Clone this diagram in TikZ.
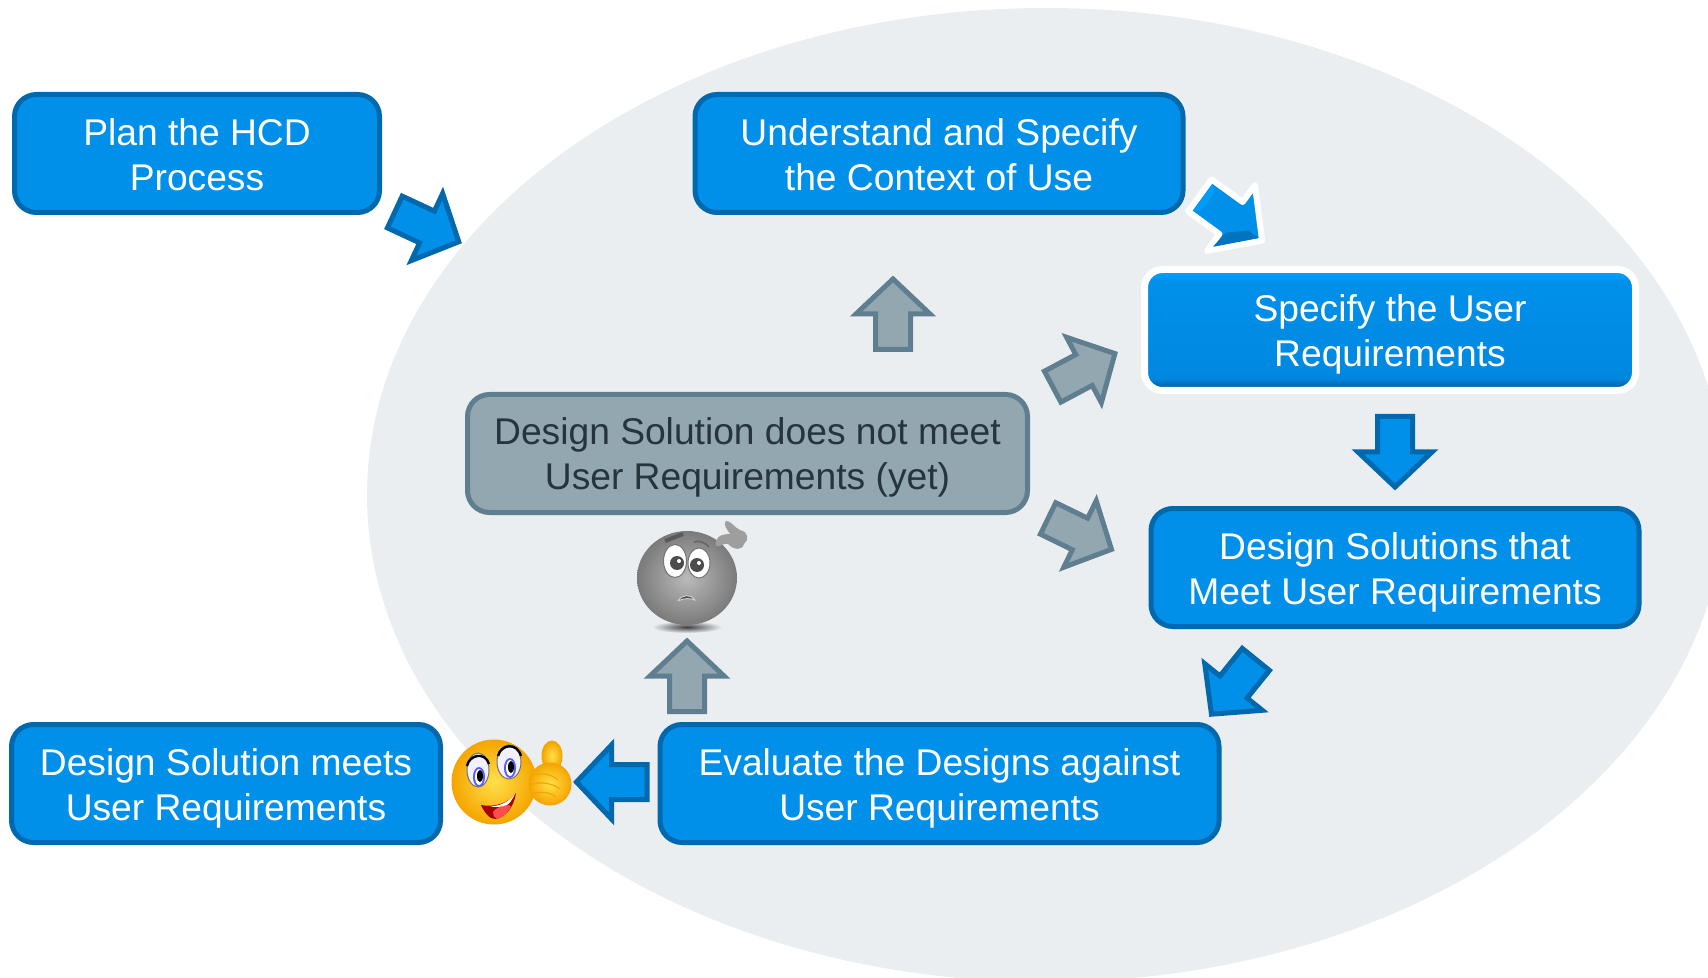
\documentclass[tikz,border=0pt]{standalone}
\usepackage{fontspec}
\setmainfont{Liberation Sans}
\usetikzlibrary{shadows}

\definecolor{boxblue}{HTML}{0090EA}
\definecolor{boxedge}{HTML}{0068AC}
\definecolor{boxgray}{HTML}{93A7B1}
\definecolor{edgegray}{HTML}{5F7F90}
\definecolor{inkgray}{HTML}{26343C}
\definecolor{backdrop}{HTML}{EBEEF1}
\definecolor{facegold}{HTML}{FFE04A}
\definecolor{faceamber}{HTML}{F5A500}
\definecolor{bandlow}{HTML}{0078C8}
\definecolor{banddark}{HTML}{005C9C}
\definecolor{bandmid}{HTML}{0088E0}
\definecolor{bandtop}{HTML}{009CFC}

\pgfdeclareverticalshading{specifyfill}{100bp}{
  color(0bp)=(bandlow); color(25bp)=(bandlow); color(26bp)=(banddark);
  color(30bp)=(bandmid); color(70bp)=(boxblue); color(73bp)=(bandtop);
  color(100bp)=(bandtop)}

\begin{document}
\begin{tikzpicture}[
    x=0.5pt,
    y=-0.5pt,
    stepbox/.style = {
      draw = boxedge,
      fill = boxblue,
      line width = 2.5pt,
      rounded corners = 11pt,
      inner sep = 0pt,
      align = center,
      text = white,
      font = \fontsize{18.6pt}{22.5pt}\selectfont
    },
    graybox/.style = {
      stepbox,
      draw = edgegray,
      fill = boxgray,
      text = inkgray
    },
    bluearrow/.style = {
      draw = boxedge,
      fill = boxblue,
      line width = 2.5pt
    },
    grayarrow/.style = {
      draw = edgegray,
      fill = boxgray,
      line width = 2.5pt
    },
    goldball/.style = {
      inner color = facegold,
      outer color = faceamber,
      draw = faceamber,
      line width = .5pt
    },
    eyeball/.style = {
      fill = white,
      draw = black!55,
      line width = .5pt
    },
    blockarrow/.pic = {
      \path[pic actions] (-35.5,-17.5) -- (0,-17.5) -- (0,-37) -- (35,0)
        -- (0,37) -- (0,17.5) -- (-35.5,17.5) -- cycle;
    },
    bevelarrow/.pic = {
      \path[pic actions] (-34,-17.5) -- (0,-17.5) -- (0,-36) -- (34,0)
        -- (0,36) -- (0,17.5) -- (-34,17.5) -- cycle;
      \fill[boxedge!70!boxblue] (2,30) -- (30,0) -- (19,0) -- (4,13) -- cycle;
      \fill[bandtop] (-31,-15) -- (-31,15) -- (-25,9) -- (-25,-9) -- cycle;
    }
  ]
  \useasboundingbox (0,0) rectangle (1708,978);
  \clip (0,0) rectangle (1708,978);

  % backdrop
  \fill[backdrop] (1046,495) ellipse [x radius=679, y radius=487];

  % boxes
  \node[stepbox, minimum width=182.5pt, minimum height=59pt] (plan) at (197,153.5)
    {\rule{0pt}{14.5pt}Plan the HCD\\Process};
  \node[stepbox, minimum width=244pt, minimum height=59pt] (context) at (939,153.5)
    {\rule{0pt}{14.5pt}Understand and Specify\\the Context of Use};
  \node[stepbox, minimum width=244pt, minimum height=59pt] (designs) at (1395,567.5)
    {\rule{0pt}{17.9pt}Design Solutions that\\Meet User Requirements};
  \node[stepbox, minimum width=279.5pt, minimum height=59pt] (evaluate) at (939.5,783.5)
    {\rule{0pt}{17.9pt}Evaluate the Designs against\\User Requirements};
  \node[stepbox, minimum width=214.5pt, minimum height=59pt] (meets) at (226,783.5)
    {\rule{0pt}{17.9pt}Design Solution meets\\User Requirements};
  \node[graybox, minimum width=280pt, minimum height=59pt] (notmet) at (747.5,453.5)
    {\rule{0pt}{16.9pt}Design Solution does not meet\\User Requirements (yet)};

  % selected box
  \node[stepbox, draw=white, line width=3.5pt, rounded corners=9pt,
    shading=specifyfill, drop shadow={shadow xshift=0pt, shadow yshift=-1.5pt, opacity=.4},
    minimum width=245.5pt, minimum height=60.5pt] (specify) at (1390,330)
    {\rule{0pt}{17.9pt}Specify the User\\Requirements};

  % arrows
  \pic[bluearrow, rotate=-25] at (427,227) {blockarrow};
  \pic[grayarrow, rotate=90] at (893,314) {blockarrow};
  \pic[grayarrow, rotate=28] at (1084,370) {blockarrow};
  \pic[grayarrow, rotate=-26] at (1080,534) {blockarrow};
  \pic[bluearrow, rotate=-90] at (1395,452) {blockarrow};
  \pic[bluearrow, rotate=-129] at (1233.5,687) {blockarrow};
  \pic[grayarrow, rotate=90] at (687,676) {blockarrow};
  \pic[bluearrow, rotate=180] at (611.5,782) {blockarrow};
  \pic[draw=white, fill=boxblue, line width=3pt, line join=round, scale=1.13,
    rotate=-36, drop shadow={shadow xshift=0pt, shadow yshift=-1pt, opacity=.25}]
    at (1231,218) {bevelarrow};

  % happy face
  \shade[goldball] (494,782) ellipse [x radius=42, y radius=42];
  \path[eyeball, fill=blue!6] (478,770) ellipse [x radius=11, y radius=17];
  \path[eyeball, fill=blue!6] (509,762) ellipse [x radius=12, y radius=17];
  \draw[black, line width=1.2pt] (467,766) .. controls (469,755) and (485,751) .. (489,764);
  \draw[black, line width=1.2pt] (498,756) .. controls (501,744) and (517,742) .. (521,756);
  \fill[blue!65!white] (479,777) ellipse [x radius=6, y radius=10];
  \fill[white] (479,777) ellipse [x radius=4, y radius=8];
  \fill[blue!65!white] (510,768) ellipse [x radius=6, y radius=10];
  \fill[white] (510,768) ellipse [x radius=4, y radius=8];
  \fill[black] (480,776) ellipse [x radius=3, y radius=6];
  \fill[black] (511,767) ellipse [x radius=3, y radius=6];
  \fill[red!65!black] (481,805) .. controls (495,808) and (510,802) .. (516,793)
    .. controls (514,808) and (504,818) .. (496,819) .. controls (490,820) and (484,812) .. (481,805);
  \fill[red!70!white] (493,812) .. controls (497,806) and (508,804) .. (511,806)
    .. controls (508,813) and (502,818) .. (497,819) .. controls (494,818) and (493,815) .. (493,812);
  \fill[white] (490,806) .. controls (498,807) and (509,802) .. (515,794)
    .. controls (512,800) and (510,803) .. (507,805) .. controls (501,807) and (495,808) .. (490,806);
  \shade[goldball] (552,756) ellipse [x radius=10, y radius=15];
  \shade[goldball] (550,784) ellipse [x radius=21, y radius=21];
  \draw[faceamber, line width=.6pt] (531,776) .. controls (540,772) and (552,774) .. (558,780);
  \draw[faceamber, line width=.6pt] (530,785) .. controls (540,781) and (552,783) .. (560,789);
  \draw[faceamber, line width=.6pt] (532,794) .. controls (540,791) and (550,792) .. (556,797);

  % worried face
  \shade[inner color=black!75, outer color=backdrop] (687,627) ellipse [x radius=35, y radius=6];
  \shade[inner color=black!27, outer color=black!52]
    (687,578) ellipse [x radius=50, y radius=47];
  \path[eyeball] (675,561) ellipse [x radius=11.5, y radius=16.5];
  \path[eyeball] (699,563) ellipse [x radius=11, y radius=15];
  \fill[black!70] (677,563) circle [radius=7];
  \fill[black!70] (697,565) circle [radius=7];
  \fill[white] (679,561) circle [radius=2];
  \fill[white] (699,563) circle [radius=2];
  \draw[black!65, line width=2pt] (665,541) -- (683,534);
  \draw[black!60, line width=.8pt] (694,542) .. controls (700,540) and (706,543) .. (709,547);
  \fill[black!70, draw=white!80!black, line width=.5pt] (678,601) .. controls (682,594) and (691,594) .. (695,600)
    .. controls (690,598) and (684,598) .. (678,601);
  \fill[black!38] (716,546) .. controls (714,538) and (720,534) .. (730,534)
    .. controls (726,528) and (723,524) .. (726,521) .. controls (730,520) and (735,528) .. (740,530)
    .. controls (749,532) and (749,540) .. (744,544) .. controls (742,551) and (734,550) .. (728,544)
    .. controls (724,542) and (720,548) .. (716,546);
\end{tikzpicture}
\end{document}
